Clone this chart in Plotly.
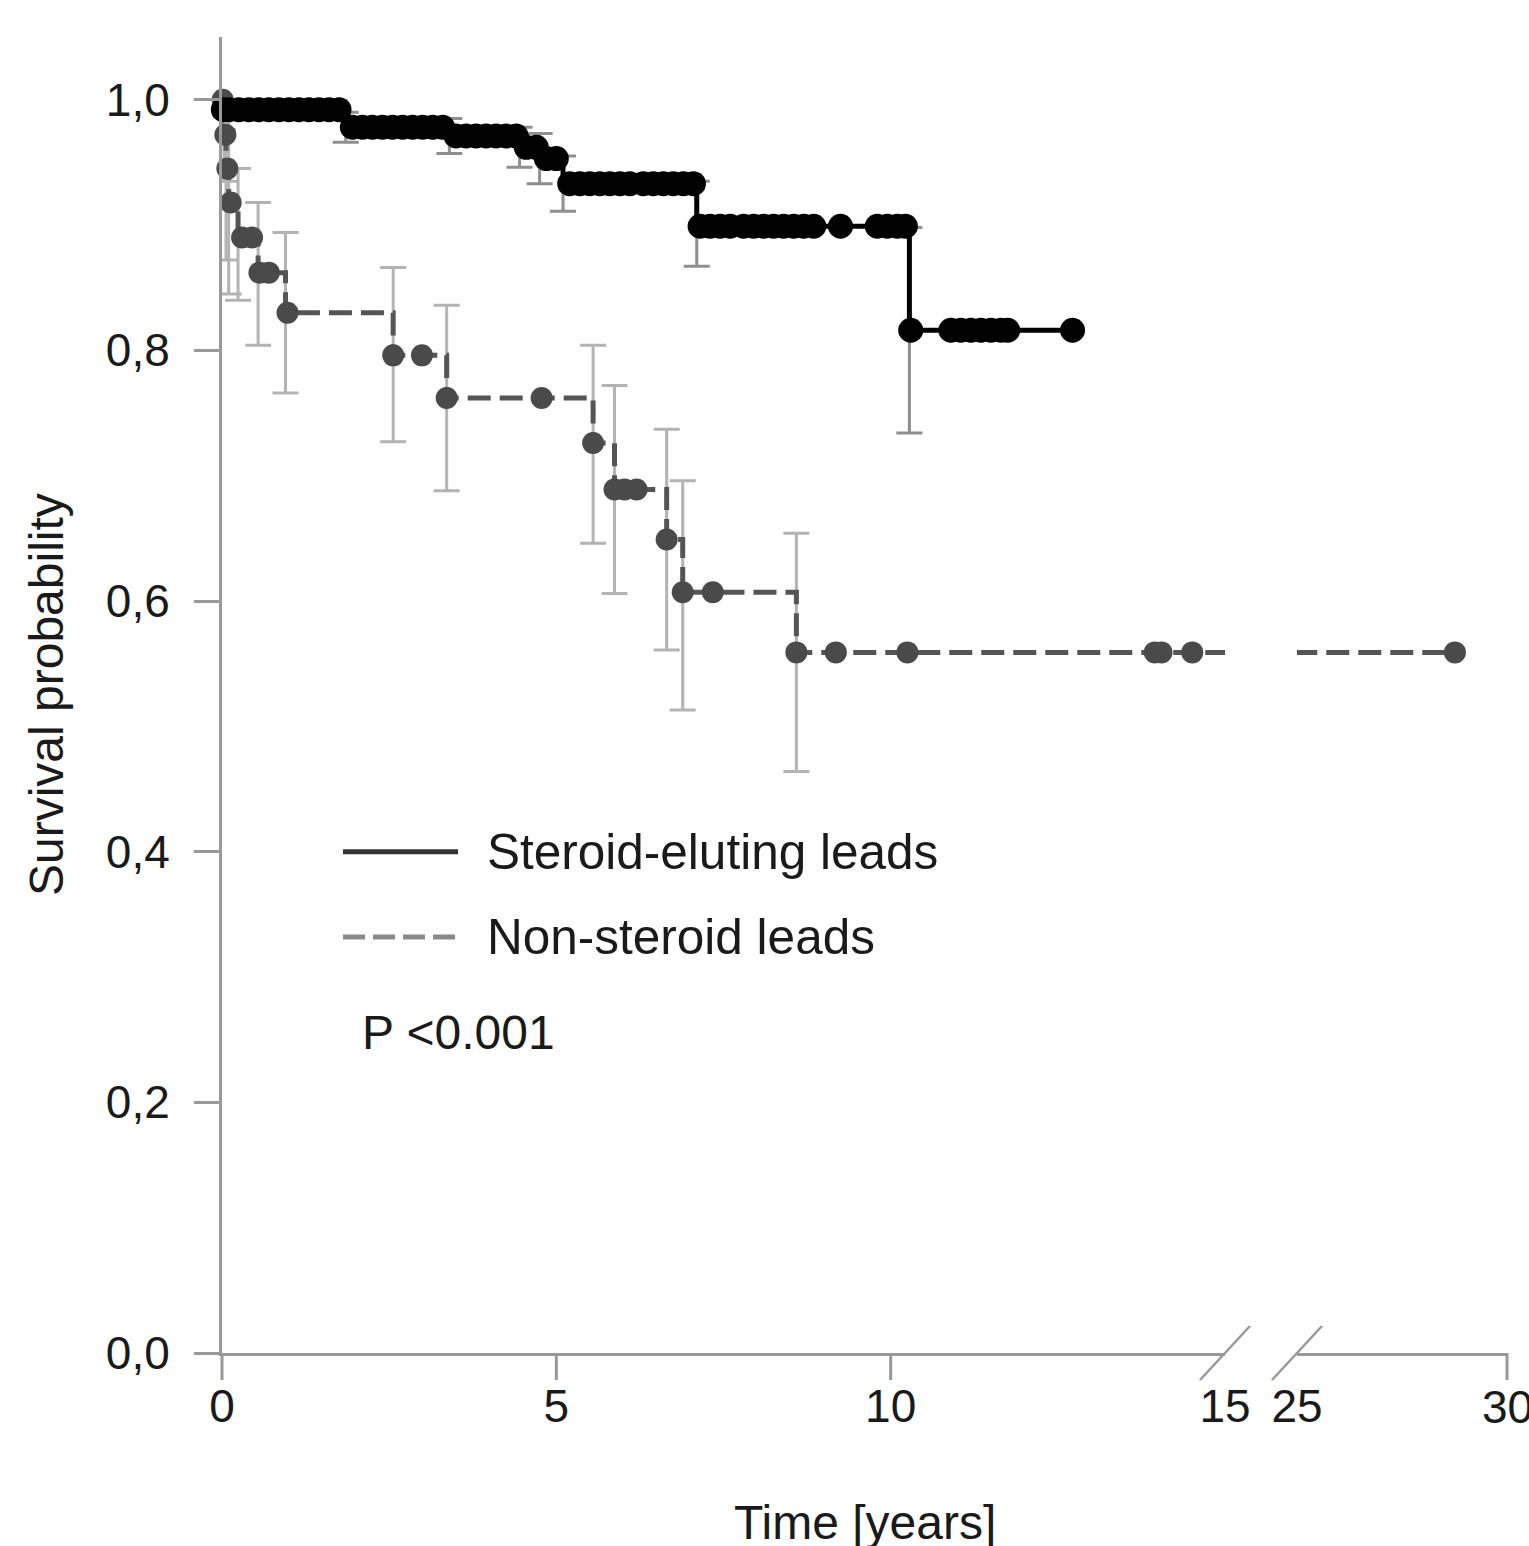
import numpy as np
import plotly.graph_objects as go

# ---------------- data ----------------
# Steroid-eluting leads: event times (years), survival after event, 95% CI
se_event_t = [0.01, 1.85, 3.40, 4.45, 4.75, 5.10, 7.10, 10.28]
se_surv = [0.992, 0.978, 0.971, 0.962, 0.953, 0.933, 0.899, 0.816]
se_ci_lo = [0.976, 0.966, 0.957, 0.946, 0.933, 0.911, 0.867, 0.734]
se_ci_hi = [1.000, 0.990, 0.985, 0.978, 0.973, 0.955, 0.935, 0.898]
se_censor_t = [0.02, 0.10, 0.25, 0.40, 0.55, 0.70, 0.85, 1.00, 1.15, 1.30, 1.45, 1.60, 1.75,
               1.95, 2.10, 2.25, 2.40, 2.55, 2.70, 2.85, 3.00, 3.15, 3.30,
               3.50, 3.65, 3.80, 3.95, 4.10, 4.25, 4.40, 4.55, 4.70, 4.85, 5.00,
               5.20, 5.35, 5.50, 5.65, 5.80, 5.95, 6.10, 6.30, 6.45, 6.60, 6.75, 6.90, 7.05,
               7.15, 7.30, 7.45, 7.60, 7.80, 7.95, 8.10, 8.25, 8.40, 8.55, 8.70, 8.85, 9.25,
               9.80, 9.95, 10.10, 10.22, 10.30, 10.90, 11.05, 11.20, 11.35, 11.50, 11.65,
               11.75, 12.72]

# Non-steroid leads
ns_event_t = [0.03, 0.06, 0.10, 0.24, 0.54, 0.95, 2.56, 3.36, 5.55, 5.87, 6.65, 6.89, 8.59]
ns_surv = [0.972, 0.945, 0.918, 0.890, 0.862, 0.830, 0.796, 0.762, 0.726, 0.689, 0.649, 0.607, 0.559]
ns_ci_lo = [0.935, 0.872, 0.845, 0.840, 0.804, 0.766, 0.727, 0.688, 0.646, 0.606, 0.561, 0.513, 0.464]
ns_ci_hi = [1.000, 1.000, 0.985, 0.945, 0.918, 0.894, 0.866, 0.836, 0.804, 0.772, 0.737, 0.696, 0.654]
ns_censor_t = [0.01, 0.05, 0.08, 0.13, 0.30, 0.45, 0.56, 0.70, 0.98, 2.56, 2.99, 3.36, 4.78,
               5.55, 5.87, 6.02, 6.20, 6.65, 6.89, 7.34, 8.59, 9.18, 10.25, 13.95, 14.05,
               14.51, 28.76]

y_tick_vals = [0.0, 0.2, 0.4, 0.6, 0.8, 1.0]
y_tick_text = ["0,0", "0,2", "0,4", "0,6", "0,8", "1,0"]
x_left_ticks = [0, 5, 10, 15]
x_right_ticks = [25, 30]
x_left_range = [0, 15]
x_right_range = [25, 30]

legend_labels = ["Steroid-eluting leads", "Non-steroid leads"]
p_text = "P <0.001"
x_title = "Time [years]"
y_title = "Survival probability"

# ---------------- styling ----------------
FONT = "Liberation Sans, Arial, Helvetica, sans-serif"
TXT = "#1a1a1a"
AX = "#999999"
SE_COL = "#000000"
NS_COL = "#4a4a4a"
NS_LINE = "#555555"


def surv_at(t, ev, sv):
    i = int(np.searchsorted(np.asarray(ev), t, side="right")) - 1
    return 1.0 if i < 0 else sv[i]


def step_xy(ev, sv, end):
    return [0.0] + list(ev) + [end], [1.0] + list(sv) + [sv[-1]]


fig = go.Figure()

# confidence interval whiskers
for ev, sv, lo, hi, col in [
    (ns_event_t, ns_surv, ns_ci_lo, ns_ci_hi, "#b3b3b3"),
    (se_event_t, se_surv, se_ci_lo, se_ci_hi, "#8f8f8f"),
]:
    fig.add_trace(go.Scatter(
        x=ev, y=sv, mode="markers", xaxis="x", yaxis="y",
        marker=dict(size=1, color="rgba(0,0,0,0)"),
        error_y=dict(type="data", symmetric=False,
                     array=[h - s for h, s in zip(hi, sv)],
                     arrayminus=[s - l for s, l in zip(sv, lo)],
                     color=col, thickness=3, width=13),
        showlegend=False, hoverinfo="skip", cliponaxis=False))

# step curves (left and right panel)
ns_x, ns_y = step_xy(ns_event_t, ns_surv, ns_censor_t[-1])
se_x, se_y = step_xy(se_event_t, se_surv, se_censor_t[-1])
for xa in ["x", "x2"]:
    fig.add_trace(go.Scatter(
        x=ns_x, y=ns_y, mode="lines", line_shape="hv", xaxis=xa, yaxis="y",
        line=dict(color=NS_LINE, width=5, dash="23px,9px"),
        showlegend=False, hoverinfo="skip"))
fig.add_trace(go.Scatter(
    x=se_x, y=se_y, mode="lines", line_shape="hv", xaxis="x", yaxis="y",
    line=dict(color=SE_COL, width=5), showlegend=False, hoverinfo="skip"))

# censoring markers
ns_left = [t for t in ns_censor_t if t <= x_left_range[1]]
ns_right = [t for t in ns_censor_t if t >= x_right_range[0]]
fig.add_trace(go.Scatter(
    x=ns_left, y=[surv_at(t, ns_event_t, ns_surv) for t in ns_left],
    mode="markers", xaxis="x", yaxis="y", cliponaxis=False,
    marker=dict(size=22, color=NS_COL), showlegend=False))
fig.add_trace(go.Scatter(
    x=ns_right, y=[surv_at(t, ns_event_t, ns_surv) for t in ns_right],
    mode="markers", xaxis="x2", yaxis="y", cliponaxis=False,
    marker=dict(size=22, color=NS_COL), showlegend=False))
fig.add_trace(go.Scatter(
    x=se_censor_t, y=[surv_at(t, se_event_t, se_surv) for t in se_censor_t],
    mode="markers", xaxis="x", yaxis="y", cliponaxis=False,
    marker=dict(size=25, color=SE_COL), showlegend=False))

# ---------------- axes ----------------
W, H = 1529, 1546
ML, MR, MT, MB = 222, 22, 37, 193
plot_w = W - ML - MR
left_end = (1225 - ML) / plot_w
right_start = (1297 - ML) / plot_w

tickfont = dict(family=FONT, size=46, color=TXT)
common_x = dict(showline=True, linewidth=3, linecolor=AX, ticks="", showgrid=False,
                zeroline=False, tickfont=tickfont, ticklabelstandoff=11, fixedrange=True,
                automargin=False)
fig.update_layout(
    width=W, height=H, autosize=False,
    margin=dict(l=ML, r=MR, t=MT, b=MB, autoexpand=False),
    paper_bgcolor="white", plot_bgcolor="white",
    font=dict(family=FONT, color=TXT),
    showlegend=False,
    xaxis=dict(domain=[0, left_end], range=x_left_range, anchor="y",
               tickvals=x_left_ticks, ticktext=[str(v) for v in x_left_ticks], **common_x),
    xaxis2=dict(domain=[right_start, 1], range=x_right_range, anchor="y",
                tickvals=x_right_ticks[:1], ticktext=[str(v) for v in x_right_ticks[:1]],
                **common_x),
    yaxis=dict(range=[0, 1.05], tickvals=y_tick_vals, ticktext=y_tick_text,
               ticks="outside", ticklen=25, tickwidth=3, tickcolor=AX,
               showline=True, linewidth=3, linecolor=AX, showgrid=False, zeroline=False,
               tickfont=tickfont, ticklabelstandoff=15, fixedrange=True, automargin=False),
)


def dom_frac(v, rng):
    return (v - rng[0]) / (rng[1] - rng[0])


shapes = []
# x tick marks (no tick at the axis break)
for xa, vals, rng in [("x domain", x_left_ticks[:-1], x_left_range),
                      ("x2 domain", x_right_ticks[1:], x_right_range)]:
    for v in vals:
        f = dom_frac(v, rng)
        shapes.append(dict(type="line", xref=xa, x0=f, x1=f, yref="y domain",
                           ysizemode="pixel", yanchor=0, y0=0, y1=-27,
                           line=dict(color=AX, width=3)))
# axis-break slashes
for xa, f in [("x domain", 1.0), ("x2 domain", 0.0)]:
    shapes.append(dict(type="line", xref=xa, xsizemode="pixel", xanchor=f, x0=-25, x1=25,
                       yref="y domain", ysizemode="pixel", yanchor=0, y0=-27, y1=27,
                       line=dict(color=AX, width=2.5)))
# legend line samples
shapes.append(dict(type="line", xref="x", x0=1.81, x1=3.53, yref="y", y0=0.4, y1=0.4,
                   line=dict(color="#333333", width=5)))
shapes.append(dict(type="line", xref="x", x0=1.81, x1=3.53, yref="y", y0=0.332, y1=0.332,
                   line=dict(color="#8a8a8a", width=5, dash="22px,8px")))
fig.update_layout(shapes=shapes)

leg_font = dict(family=FONT, size=49.5, color=TXT)
ann_font = dict(family=FONT, size=48, color=TXT)
annotations = [
    dict(text=legend_labels[0], xref="x", yref="y", x=3.93, y=0.4, xanchor="left",
         yanchor="middle", showarrow=False, font=leg_font),
    dict(text=legend_labels[1], xref="x", yref="y", x=3.93, y=0.332, xanchor="left",
         yanchor="middle", showarrow=False, font=leg_font),
    dict(text=p_text, xref="x", yref="y", x=2.06, y=0.256, xanchor="left",
         yanchor="middle", showarrow=False, font=ann_font),
    dict(text=x_title, xref="paper", yref="paper", x=0.5, y=0, xanchor="center",
         yanchor="middle", yshift=-169, showarrow=False, font=ann_font),
    dict(text=y_title, xref="paper", yref="paper", x=0, y=0.5, xanchor="center",
         yanchor="middle", xshift=-176, textangle=-90, showarrow=False, font=ann_font),
    # last tick label of the right segment (sits at the page edge)
    dict(text=str(x_right_ticks[-1]), xref="x2", yref="paper", x=x_right_ticks[-1], y=0,
         xanchor="center", yanchor="middle", yshift=-54, showarrow=False, font=tickfont),
]
fig.update_layout(annotations=annotations)

fig.write_html("out.html",
               config={"displayModeBar": False, "responsive": False, "staticPlot": True},
               post_script="document.body.style.margin='0px';"
                           "document.body.style.overflow='hidden';")
